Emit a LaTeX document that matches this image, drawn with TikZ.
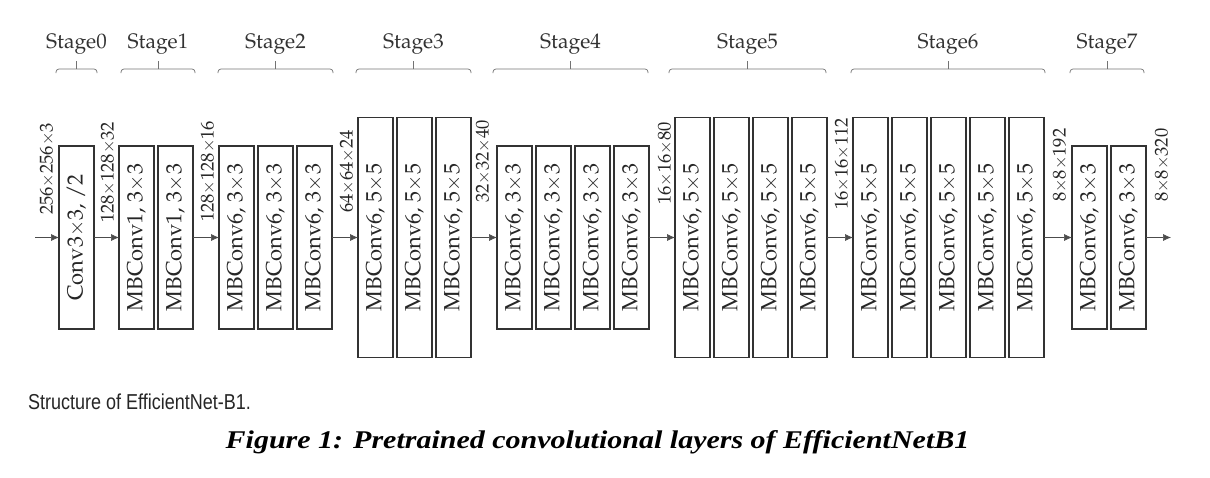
\documentclass[tikz,border=0pt]{standalone}
\usepackage[T1]{fontenc}
\usepackage{fontspec}
\usepackage{tikz}
\usetikzlibrary{positioning,arrows.meta}
\setmainfont{Liberation Serif}
\newfontfamily\capsans{Liberation Sans}
\newcommand{\palfont}{\fontencoding{T1}\fontfamily{ppl}\selectfont}
\tikzset{
  layer/.style={draw=black!80, line width=1.1pt, minimum width=35pt, inner sep=0pt, outer sep=0pt,
    text=black!85, font=\palfont\fontsize{22}{24}\selectfont},
  short/.style={layer, minimum height=183pt},
  tall/.style={layer, minimum height=240pt},
  flow/.style={-{Latex[length=8pt,width=7pt]}, draw=black!70, line width=0.6pt},
  dimlab/.style={rotate=90, anchor=west, inner sep=0pt, text=black!85,
    font=\palfont\fontsize{18.5}{20}\selectfont},
  stagebrace/.style={draw=black!55, line width=0.7pt, rounded corners=3pt},
  stagelab/.style={anchor=base, yshift=13pt, inner sep=0pt, text=black!80,
    font=\palfont\fontsize{21}{23}\selectfont}
}

\begin{document}
\begin{tikzpicture}[x=1pt,y=-1pt]
  \useasboundingbox (0,0) rectangle (1210,477);

  % stage 0 and 1
  \node[short] (s0) at (76.5,237.5) {\rotatebox{90}{Conv3$\times$3, /2}};
  \node[short] (s1a) [right=25pt of s0]  {\rotatebox{90}{MBConv1, 3$\times$3}};
  \node[short] (s1b) [right=4pt of s1a]  {\rotatebox{90}{MBConv1, 3$\times$3}};
  % stage 2
  \node[short] (s2a) [right=26pt of s1b] {\rotatebox{90}{MBConv6, 3$\times$3}};
  \node[short] (s2b) [right=4pt of s2a]  {\rotatebox{90}{MBConv6, 3$\times$3}};
  \node[short] (s2c) [right=4pt of s2b]  {\rotatebox{90}{MBConv6, 3$\times$3}};
  % stage 3
  \node[tall] (s3a) [right=26pt of s2c]  {\rotatebox{90}{MBConv6, 5$\times$5}};
  \node[tall] (s3b) [right=4pt of s3a]   {\rotatebox{90}{MBConv6, 5$\times$5}};
  \node[tall] (s3c) [right=4pt of s3b]   {\rotatebox{90}{MBConv6, 5$\times$5}};
  % stage 4
  \node[short] (s4a) [right=26pt of s3c] {\rotatebox{90}{MBConv6, 3$\times$3}};
  \node[short] (s4b) [right=4pt of s4a]  {\rotatebox{90}{MBConv6, 3$\times$3}};
  \node[short] (s4c) [right=4pt of s4b]  {\rotatebox{90}{MBConv6, 3$\times$3}};
  \node[short] (s4d) [right=4pt of s4c]  {\rotatebox{90}{MBConv6, 3$\times$3}};
  % stage 5
  \node[tall] (s5a) [right=26pt of s4d]  {\rotatebox{90}{MBConv6, 5$\times$5}};
  \node[tall] (s5b) [right=4pt of s5a]   {\rotatebox{90}{MBConv6, 5$\times$5}};
  \node[tall] (s5c) [right=4pt of s5b]   {\rotatebox{90}{MBConv6, 5$\times$5}};
  \node[tall] (s5d) [right=4pt of s5c]   {\rotatebox{90}{MBConv6, 5$\times$5}};
  % stage 6
  \node[tall] (s6a) [right=26pt of s5d]  {\rotatebox{90}{MBConv6, 5$\times$5}};
  \node[tall] (s6b) [right=4pt of s6a]   {\rotatebox{90}{MBConv6, 5$\times$5}};
  \node[tall] (s6c) [right=4pt of s6b]   {\rotatebox{90}{MBConv6, 5$\times$5}};
  \node[tall] (s6d) [right=4pt of s6c]   {\rotatebox{90}{MBConv6, 5$\times$5}};
  \node[tall] (s6e) [right=4pt of s6d]   {\rotatebox{90}{MBConv6, 5$\times$5}};
  % stage 7
  \node[short] (s7a) [right=28pt of s6e] {\rotatebox{90}{MBConv6, 3$\times$3}};
  \node[short] (s7b) [right=4pt of s7a]  {\rotatebox{90}{MBConv6, 3$\times$3}};

  \coordinate (in)  at (35,237.5);
  \coordinate (out) at (1171,237.5);

  % data flow
  \draw[flow] (in) -- (s0.west);
  \draw[flow] (s0.east) -- (s1a.west);
  \draw[flow] (s1b.east) -- (s2a.west);
  \draw[flow] (s2c.east) -- (s3a.west);
  \draw[flow] (s3c.east) -- (s4a.west);
  \draw[flow] (s4d.east) -- (s5a.west);
  \draw[flow] (s5d.east) -- (s6a.west);
  \draw[flow] (s6e.east) -- (s7a.west);
  \draw[flow] (s7b.east) -- (out);

  % feature map sizes
  \node[dimlab] (d0) at (47,215)   {256$\times$256$\times$3};
  \node[dimlab] (d1) at (108,223)  {128$\times$128$\times$32};
  \node[dimlab] (d2) at (208,222)  {128$\times$128$\times$16};
  \node[dimlab] (d3) at (347,213)  {64$\times$64$\times$24};
  \node[dimlab] (d4) at (483,203)  {32$\times$32$\times$40};
  \node[dimlab] (d5) at (665,205)  {16$\times$16$\times$80};
  \node[dimlab] (d6) at (842,210)  {16$\times$16$\times$112};
  \node[dimlab] (d7) at (1060,202) {8$\times$8$\times$192};
  \node[dimlab] (d8) at (1162,202) {8$\times$8$\times$320};

  % stages
  \draw[stagebrace] (56,73) |- (97,69) -- (97,73);
  \draw[stagebrace] (76.5,69) -- (76.5,61) node[stagelab] (st0) {Stage0};
  \draw[stagebrace] (121,73) |- (195,69) -- (195,73);
  \draw[stagebrace] (158,69) -- (158,61) node[stagelab] (st1) {Stage1};
  \draw[stagebrace] (218,73) |- (333,69) -- (333,73);
  \draw[stagebrace] (275.5,69) -- (275.5,61) node[stagelab] (st2) {Stage2};
  \draw[stagebrace] (356,73) |- (471,69) -- (471,73);
  \draw[stagebrace] (413.5,69) -- (413.5,61) node[stagelab] (st3) {Stage3};
  \draw[stagebrace] (493,73) |- (648,69) -- (648,73);
  \draw[stagebrace] (570.5,69) -- (570.5,61) node[stagelab] (st4) {Stage4};
  \draw[stagebrace] (669,73) |- (826,69) -- (826,73);
  \draw[stagebrace] (747.5,69) -- (747.5,61) node[stagelab] (st5) {Stage5};
  \draw[stagebrace] (851,73) |- (1045,69) -- (1045,73);
  \draw[stagebrace] (948,69) -- (948,61) node[stagelab] (st6) {Stage6};
  \draw[stagebrace] (1070,73) |- (1144,69) -- (1144,73);
  \draw[stagebrace] (1107,69) -- (1107,61) node[stagelab] (st7) {Stage7};

  % captions
  \node[anchor=base west, inner sep=0pt, text=black!85, font=\capsans\fontsize{18}{20}\selectfont]
    (cap1) at (28,409) {\scalebox{1}[1.2]{Structure of EfficientNet-B1.}};
  \node[anchor=base, inner sep=0pt, font=\bfseries\itshape\fontsize{30}{32}\selectfont]
    (cap2) at (597.5,448) {\scalebox{1}[0.85]{Figure 1: Pretrained convolutional layers of EfficientNetB1}};
\end{tikzpicture}
\end{document}
